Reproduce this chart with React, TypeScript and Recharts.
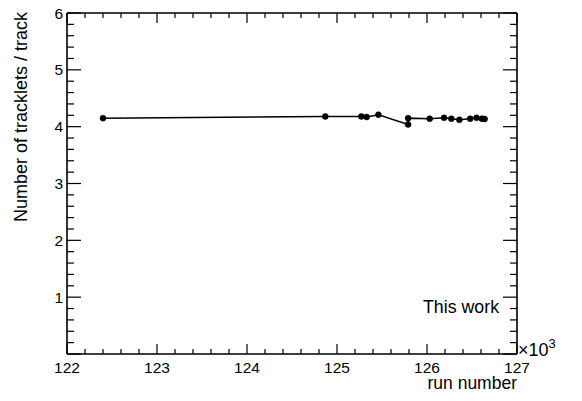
import React from "react";
import { LineChart, Line, XAxis, YAxis } from "recharts";

const runNumbers = [
  122400, 124870, 125270, 125330, 125460, 125790, 125790, 126030, 126190,
  126270, 126360, 126480, 126550, 126610, 126640,
];
const trackletsPerTrack = [
  4.15, 4.18, 4.18, 4.17, 4.21, 4.04, 4.15, 4.14, 4.155, 4.14, 4.12, 4.14,
  4.155, 4.14, 4.135,
];
const xMajorTicks = [122000, 123000, 124000, 125000, 126000, 127000];
const xMajorLabels = ["122", "123", "124", "125", "126", "127"];
const xMinorTicks = [
  122200, 122400, 122600, 122800, 123200, 123400, 123600, 123800, 124200,
  124400, 124600, 124800, 125200, 125400, 125600, 125800, 126200, 126400,
  126600, 126800,
];
const yMajorTicks = [0, 1, 2, 3, 4, 5, 6];
const yMajorLabels = ["", "1", "2", "3", "4", "5", "6"];
const yMinorTicks = [
  0.2, 0.4, 0.6, 0.8, 1.2, 1.4, 1.6, 1.8, 2.2, 2.4, 2.6, 2.8, 3.2, 3.4, 3.6,
  3.8, 4.2, 4.4, 4.6, 4.8, 5.2, 5.4, 5.6, 5.8,
];

const data = runNumbers.map((x, i) => ({ x, y: trackletsPerTrack[i] }));
const xTicks = [...xMajorTicks, ...xMinorTicks].sort((a, b) => a - b);
const yTicks = [...yMajorTicks, ...yMinorTicks].sort((a, b) => a - b);

const FONT = "'Liberation Sans', Arial, Helvetica, sans-serif";
const W = 582;
const H = 401;

const isMajorX = (v: number) => xMajorTicks.includes(v);
const isMajorY = (v: number) => yMajorTicks.includes(v);

const XTickBottom = (props: any) => {
  const { x, y, payload } = props;
  const major = isMajorX(payload.value);
  const idx = xMajorTicks.indexOf(payload.value);
  return (
    <g>
      <line x1={x} x2={x} y1={y} y2={y - (major ? 10 : 5)} stroke="#000" strokeWidth={1.2} />
      {major && (
        <text x={x} y={y + 19} textAnchor="middle" fontFamily={FONT} fontSize={15.5} fill="#000">
          {xMajorLabels[idx]}
        </text>
      )}
    </g>
  );
};

const XTickTop = (props: any) => {
  const { x, y, payload } = props;
  const major = isMajorX(payload.value);
  return <line x1={x} x2={x} y1={y} y2={y + (major ? 10 : 5)} stroke="#000" strokeWidth={1.2} />;
};

const YTickLeft = (props: any) => {
  const { x, y, payload } = props;
  const major = isMajorY(payload.value);
  const idx = yMajorTicks.indexOf(payload.value);
  return (
    <g>
      <line x1={x} x2={x + (major ? 14 : 7)} y1={y} y2={y} stroke="#000" strokeWidth={1.2} />
      {major && (
        <text x={x - 4} y={y + 5.5} textAnchor="end" fontFamily={FONT} fontSize={15.5} fill="#000">
          {yMajorLabels[idx]}
        </text>
      )}
    </g>
  );
};

const YTickRight = (props: any) => {
  const { x, y, payload } = props;
  const major = isMajorY(payload.value);
  return <line x1={x} x2={x - (major ? 14 : 7)} y1={y} y2={y} stroke="#000" strokeWidth={1.2} />;
};

export default function App() {
  return (
    <div style={{ position: "absolute", left: 0, top: 0, width: W, height: H, background: "#fff" }}>
      <LineChart
        width={W}
        height={H}
        data={data}
        margin={{ top: 0, right: 0, bottom: 0, left: 0 }}
      >
        <XAxis
          xAxisId="b"
          dataKey="x"
          type="number"
          domain={[122000, 127000]}
          ticks={xTicks}
          interval={0}
          height={47}
          tickSize={0}
          tickMargin={0}
          tickLine={false}
          axisLine={{ stroke: "#000", strokeWidth: 1.6 }}
          tick={<XTickBottom />}
          allowDataOverflow
        />
        <XAxis
          xAxisId="t"
          orientation="top"
          dataKey="x"
          type="number"
          domain={[122000, 127000]}
          ticks={xTicks}
          interval={0}
          height={13}
          tickSize={0}
          tickMargin={0}
          tickLine={false}
          axisLine={{ stroke: "#000", strokeWidth: 1.6 }}
          tick={<XTickTop />}
          allowDataOverflow
        />
        <YAxis
          yAxisId="l"
          type="number"
          domain={[0, 6]}
          ticks={yTicks}
          interval={0}
          width={67}
          tickSize={0}
          tickMargin={0}
          tickLine={false}
          axisLine={{ stroke: "#000", strokeWidth: 1.6 }}
          tick={<YTickLeft />}
          allowDataOverflow
        />
        <YAxis
          yAxisId="r"
          orientation="right"
          type="number"
          domain={[0, 6]}
          ticks={yTicks}
          interval={0}
          width={65}
          tickSize={0}
          tickMargin={0}
          tickLine={false}
          axisLine={{ stroke: "#000", strokeWidth: 1.6 }}
          tick={<YTickRight />}
          allowDataOverflow
        />
        <Line
          xAxisId="b"
          yAxisId="l"
          dataKey="y"
          stroke="#000"
          strokeWidth={1.5}
          dot={{ r: 3, fill: "#000", stroke: "#000", strokeWidth: 0.5 }}
          isAnimationActive={false}
        />
      </LineChart>
      <svg
        width={W}
        height={H}
        style={{ position: "absolute", left: 0, top: 0, pointerEvents: "none" }}
      >
        <text
          x={27}
          y={12}
          transform="rotate(-90 27 12)"
          textAnchor="end"
          fontFamily={FONT}
          fontSize={18}
          fill="#000"
        >
          Number of tracklets / track
        </text>
        <text x={517} y={389} textAnchor="end" fontFamily={FONT} fontSize={17.5} fill="#000">
          run number
        </text>
        <text x={423} y={313} fontFamily={FONT} fontSize={17.8} fill="#000">
          This work
        </text>
        <text x={518} y={356} fontFamily={FONT} fontSize={18} fill="#000">
          ×10
          <tspan dy={-8} fontSize={13}>3</tspan>
        </text>
      </svg>
    </div>
  );
}
